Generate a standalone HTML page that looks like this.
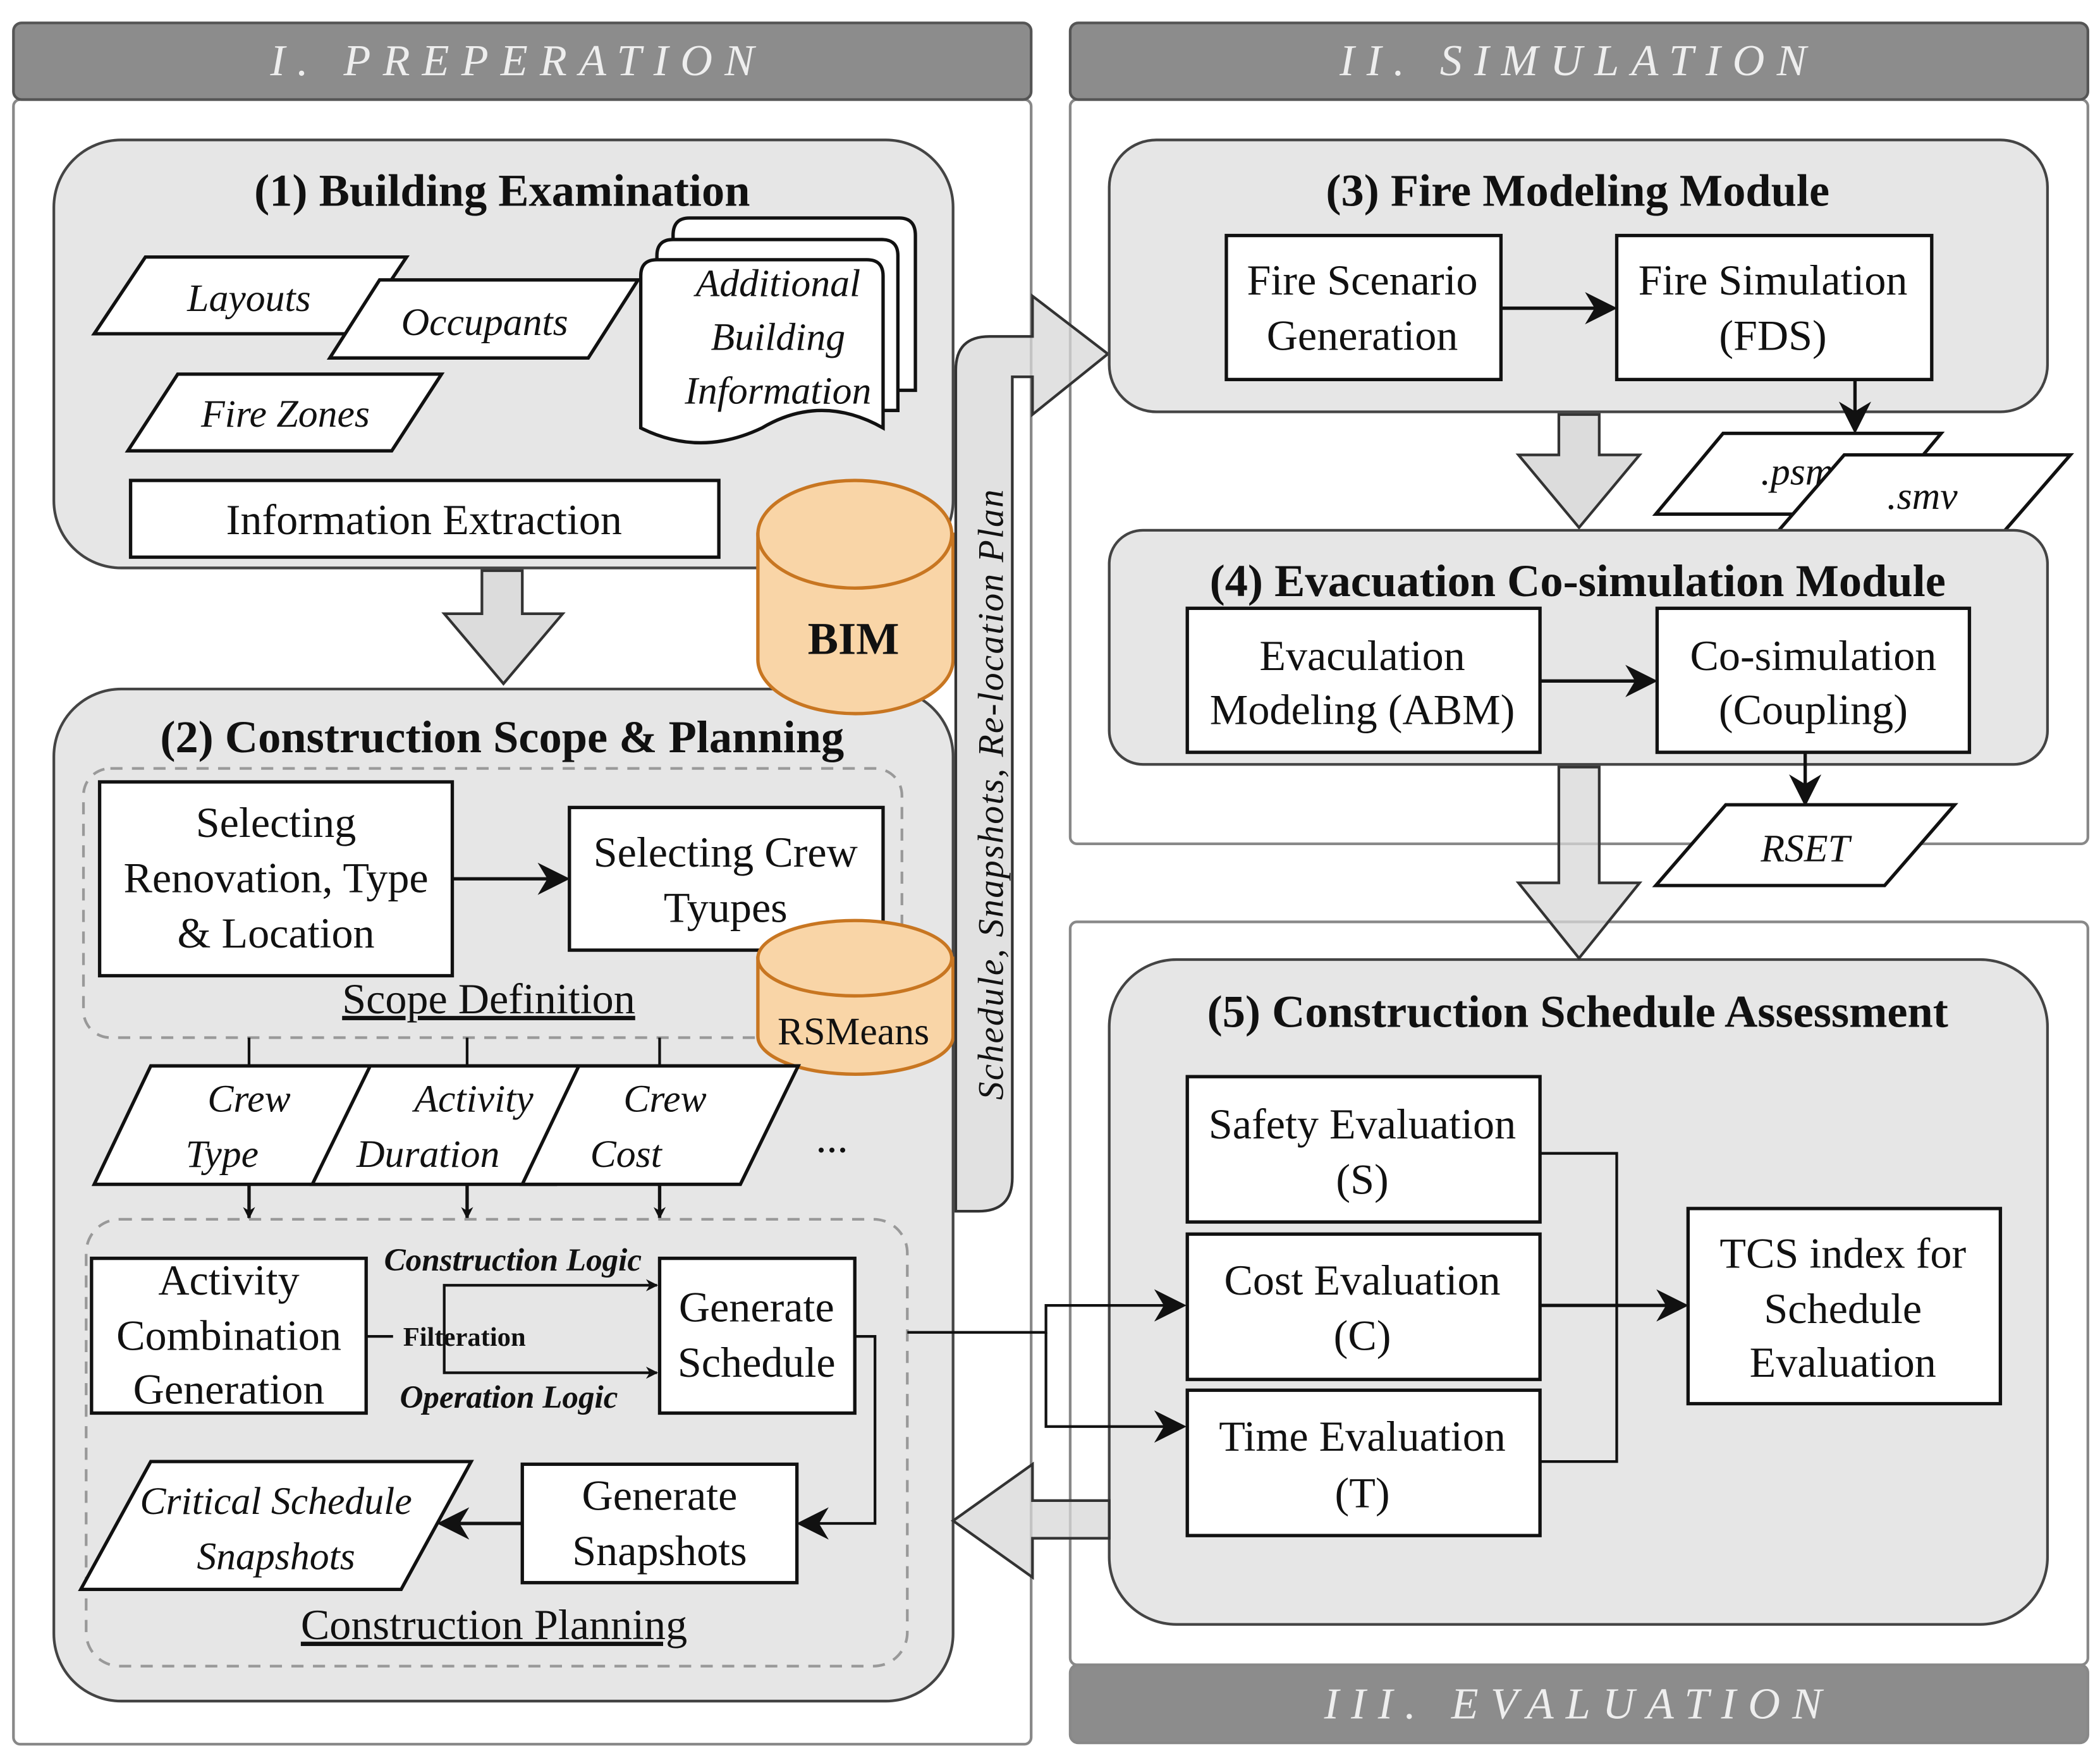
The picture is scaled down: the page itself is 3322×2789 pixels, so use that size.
<!DOCTYPE html>
<html><head><meta charset="utf-8"><style>
html,body{margin:0;padding:0;background:#fff}
svg{display:block}
text{font-family:"Liberation Serif",serif;fill:#111}
.t{font-size:32px;text-anchor:middle}
.i{font-size:29px;font-style:italic;text-anchor:middle}
.b{font-size:34px;font-weight:bold;text-anchor:middle}
.h{font-size:33px;font-style:italic;fill:#eee;text-anchor:middle;letter-spacing:9px}
.box{fill:#fff;stroke:#111;stroke-width:2.5}
.grp{fill:#e6e6e6;stroke:#444;stroke-width:2}
.ln{fill:none;stroke:#111;stroke-width:2.5}
.dash{fill:none;stroke:#999;stroke-width:2;stroke-dasharray:9 7}
.cyl{fill:#f9d5a7;stroke:#c87621;stroke-width:2.5}
.ha{fill:#dcdcdc;stroke:#333;stroke-width:2}
.ta{fill:rgba(215,215,215,0.75);stroke:#333;stroke-width:2}
</style></head><body>
<svg width="3322" height="2789" viewBox="0 0 1560 1310" preserveAspectRatio="none" xmlns="http://www.w3.org/2000/svg">
<defs><marker id="a" viewBox="0 0 10 10" refX="9" refY="5" markerWidth="9" markerHeight="9" markerUnits="userSpaceOnUse" orient="auto"><path d="M0,0 L10,5 L0,10 L3,5 z" fill="#111"/></marker>
<marker id="m" viewBox="0 0 10 10" refX="9" refY="5" markerWidth="24" markerHeight="24" markerUnits="userSpaceOnUse" orient="auto"><path d="M0,0 L10,5 L0,10 L3,5 z" fill="#111"/></marker></defs>

<rect x="10" y="74" width="756" height="1222" rx="5" fill="#fff" stroke="#888" stroke-width="2"/>
<rect x="795" y="74" width="756" height="553" rx="5" fill="#fff" stroke="#888" stroke-width="2"/>
<rect x="795" y="685" width="756" height="552" rx="5" fill="#fff" stroke="#888" stroke-width="2"/>
<rect x="10" y="17" width="756" height="57" rx="6" fill="#8c8c8c" stroke="#555" stroke-width="2"/>
<rect x="795" y="17" width="756" height="57" rx="6" fill="#8c8c8c" stroke="#555" stroke-width="2"/>
<rect x="795" y="1237" width="756" height="58" rx="6" fill="#8c8c8c" stroke="#888" stroke-width="2"/>
<text class="h" x="385" y="56">I. PREPERATION</text>
<text class="h" x="1173" y="56">II. SIMULATION</text>
<text class="h" x="1173" y="1277">III. EVALUATION</text>

<!-- Box 1 -->
<rect class="grp" x="40" y="104" width="668" height="318" rx="50"/>
<text class="b" x="373" y="153">(1) Building Examination</text>
<polygon class="box" points="70,248 108,191 302,191 264,248"/>
<text class="i" x="185" y="231">Layouts</text>
<polygon class="box" points="245,266 282,208 474,208 437,266"/>
<text class="i" x="360" y="249">Occupants</text>
<polygon class="box" points="95,335 132,278 328,278 291,335"/>
<text class="i" x="212" y="317">Fire Zones</text>
<path class="box" d="M500,175 Q500,162 512,162 L668,162 Q680,162 680,175 L680,290 L500,290 z"/>
<path class="box" d="M488,190 Q488,178 500,178 L655,178 Q667,178 667,190 L667,305 L488,305 z"/>
<path class="box" d="M476,205 Q476,193 488,193 L644,193 Q656,193 656,205 L656,318 Q610,292 566,318 Q520,340 476,318 z"/>
<text class="i" x="578" y="220">Additional</text>
<text class="i" x="578" y="260">Building</text>
<text class="i" x="578" y="300">Information</text>
<rect class="box" x="97" y="357" width="437" height="57"/>
<text class="t" x="315" y="397">Information Extraction</text>
<polygon class="ha" points="358,424 388,424 388,456 418,456 374,508 330,456 358,456"/>

<!-- Box 2 -->
<rect class="grp" x="40" y="512" width="668" height="752" rx="50"/>
<!-- BIM -->
<path class="cyl" d="M563,397 L563,490 A72,40 0 0 0 708,490 L708,397 z"/>
<ellipse class="cyl" cx="635" cy="397" rx="72" ry="40"/>
<text class="b" x="634" y="486">BIM</text>
<text class="b" x="373" y="559">(2) Construction Scope &amp; Planning</text>
<rect class="dash" x="62" y="571" width="608" height="200" rx="20"/>
<rect class="box" x="74" y="581" width="262" height="144"/>
<text class="t" x="205" y="622">Selecting</text>
<text class="t" x="205" y="663">Renovation, Type</text>
<text class="t" x="205" y="704">&amp; Location</text>
<line class="ln" x1="336" y1="653" x2="421" y2="653" marker-end="url(#m)"/>
<rect class="box" x="423" y="600" width="233" height="106"/>
<text class="t" x="539" y="644">Selecting Crew</text>
<text class="t" x="539" y="685">Tyupes</text>
<path class="cyl" d="M563,712 L563,770 A72,28 0 0 0 708,770 L708,712 z"/>
<ellipse class="cyl" cx="635" cy="712" rx="72" ry="28"/>
<text x="634" y="776" style="font-size:29px;text-anchor:middle">RSMeans</text>
<text class="t" x="363" y="753" style="text-decoration:underline">Scope Definition</text>
<line class="ln" x1="185" y1="771" x2="185" y2="792" style="stroke-width:2"/>
<line class="ln" x1="347" y1="771" x2="347" y2="792" style="stroke-width:2"/>
<line class="ln" x1="490" y1="771" x2="490" y2="792" style="stroke-width:2"/>
<polygon class="box" points="70,880 112,792 301,792 259,880"/>
<text class="i" x="185" y="826">Crew</text><text class="i" x="165" y="867">Type</text>
<polygon class="box" points="232,880 275,792 456,792 413,880"/>
<text class="i" x="352" y="826">Activity</text><text class="i" x="318" y="867">Duration</text>
<polygon class="box" points="388,880 430,792 593,792 550,880"/>
<text class="i" x="494" y="826">Crew</text><text class="i" x="465" y="867">Cost</text>
<text class="t" x="618" y="856">...</text>
<line class="ln" x1="185" y1="880" x2="185" y2="905" marker-end="url(#a)"/>
<line class="ln" x1="347" y1="880" x2="347" y2="905" marker-end="url(#a)"/>
<line class="ln" x1="490" y1="880" x2="490" y2="905" marker-end="url(#a)"/>
<rect class="dash" x="64" y="906" width="610" height="332" rx="25"/>
<rect class="box" x="68" y="935" width="204" height="115"/>
<text class="t" x="170" y="962">Activity</text>
<text class="t" x="170" y="1003">Combination</text>
<text class="t" x="170" y="1043">Generation</text>
<rect class="box" x="490" y="935" width="145" height="115"/>
<text class="t" x="562" y="982">Generate</text>
<text class="t" x="562" y="1023">Schedule</text>
<line class="ln" x1="272" y1="993" x2="292" y2="993" style="stroke-width:2"/>
<path class="ln" d="M330,993 L330,955 L488,955" style="stroke-width:2" marker-end="url(#a)"/>
<path class="ln" d="M330,993 L330,1020 L488,1020" style="stroke-width:2" marker-end="url(#a)"/>
<text x="345" y="1000" style="font-size:20px;font-weight:bold;text-anchor:middle">Filteration</text>
<text x="381" y="944" style="font-size:24px;font-style:italic;font-weight:bold;text-anchor:middle">Construction Logic</text>
<text x="378" y="1046" style="font-size:24px;font-style:italic;font-weight:bold;text-anchor:middle">Operation Logic</text>
<path class="ln" d="M635,993 L650,993 L650,1132 L594,1132" style="stroke-width:2" marker-end="url(#m)"/>
<rect class="box" x="388" y="1088" width="204" height="88"/>
<text class="t" x="490" y="1122">Generate</text>
<text class="t" x="490" y="1163">Snapshots</text>
<line class="ln" x1="388" y1="1132" x2="327" y2="1132" marker-end="url(#m)"/>
<polygon class="box" points="60,1181 112,1086 350,1086 298,1181"/>
<text class="i" x="205" y="1125">Critical Schedule</text>
<text class="i" x="205" y="1166">Snapshots</text>
<text class="t" x="367" y="1218" style="text-decoration:underline">Construction Planning</text>

<!-- bent arrow -->
<path class="ta" d="M710,900 L710,275 Q710,250 735,250 L767,250 L767,220 L823,263 L767,308 L767,280 L752,280 L752,875 Q752,900 727,900 z"/>
<text x="0" y="0" transform="translate(745,590) rotate(-90)" style="font-size:27px;font-style:italic;text-anchor:middle;letter-spacing:1px">Schedule, Snapshots, Re-location Plan</text>

<!-- Box 3 -->
<rect class="grp" x="824" y="104" width="697" height="202" rx="35"/>
<text class="b" x="1172" y="153">(3) Fire Modeling Module</text>
<rect class="box" x="911" y="175" width="204" height="107"/>
<text class="t" x="1012" y="219">Fire Scenario</text><text class="t" x="1012" y="260">Generation</text>
<rect class="box" x="1201" y="175" width="234" height="107"/>
<text class="t" x="1317" y="219">Fire Simulation</text><text class="t" x="1317" y="260">(FDS)</text>
<line class="ln" x1="1115" y1="229" x2="1199" y2="229" marker-end="url(#m)"/>
<line class="ln" x1="1378" y1="282" x2="1378" y2="320" marker-end="url(#m)"/>
<polygon class="box" points="1230,382 1280,322 1442,322 1392,382"/>
<text class="i" x="1335" y="360">.psm</text>
<polygon class="box" points="1318,398 1370,338 1538,338 1486,398"/>
<text class="i" x="1428" y="378">.smv</text>
<polygon class="ha" points="1158,308 1188,308 1188,338 1218,338 1173,392 1128,338 1158,338"/>

<!-- Box 4 -->
<rect class="grp" x="824" y="394" width="697" height="174" rx="25"/>
<text class="b" x="1172" y="443">(4) Evacuation Co-simulation Module</text>
<rect class="box" x="882" y="452" width="262" height="107"/>
<text class="t" x="1012" y="498">Evaculation</text><text class="t" x="1012" y="538">Modeling (ABM)</text>
<rect class="box" x="1231" y="452" width="232" height="107"/>
<text class="t" x="1347" y="498">Co-simulation</text><text class="t" x="1347" y="538">(Coupling)</text>
<line class="ln" x1="1144" y1="506" x2="1229" y2="506" marker-end="url(#m)"/>
<line class="ln" x1="1341" y1="559" x2="1341" y2="597" marker-end="url(#m)"/>
<polygon class="box" points="1230,658 1282,598 1452,598 1400,658"/>
<text class="i" x="1341" y="640">RSET</text>

<!-- Box 5 -->
<rect class="grp" x="824" y="713" width="697" height="494" rx="50"/>
<polygon class="ta" points="1158,570 1188,570 1188,656 1218,656 1173,712 1128,656 1158,656"/>
<text class="b" x="1172" y="763">(5) Construction Schedule Assessment</text>
<rect class="box" x="882" y="800" width="262" height="108"/>
<text class="t" x="1012" y="846">Safety Evaluation</text><text class="t" x="1012" y="887">(S)</text>
<rect class="box" x="882" y="917" width="262" height="108"/>
<text class="t" x="1012" y="962">Cost Evaluation</text><text class="t" x="1012" y="1003">(C)</text>
<rect class="box" x="882" y="1033" width="262" height="108"/>
<text class="t" x="1012" y="1078">Time Evaluation</text><text class="t" x="1012" y="1120">(T)</text>
<path class="ln" d="M1144,857 L1201,857 L1201,1086 L1144,1086" style="stroke-width:2"/>
<line class="ln" x1="1144" y1="970" x2="1252" y2="970" marker-end="url(#m)"/>
<rect class="box" x="1254" y="898" width="232" height="145"/>
<text class="t" x="1369" y="942">TCS index for</text>
<text class="t" x="1369" y="983">Schedule</text>
<text class="t" x="1369" y="1023">Evaluation</text>

<!-- connector to evaluation (over box 5) -->
<path class="ln" d="M674,990 L777,990 L777,970 L879,970" style="stroke-width:2" marker-end="url(#m)"/>
<path class="ln" d="M777,990 L777,1060 L879,1060" style="stroke-width:2" marker-end="url(#m)"/>

<!-- left arrow -->
<polygon class="ta" points="824,1115 767,1115 767,1088 708,1130 767,1172 767,1143 824,1143"/>
</svg>
</body></html>
